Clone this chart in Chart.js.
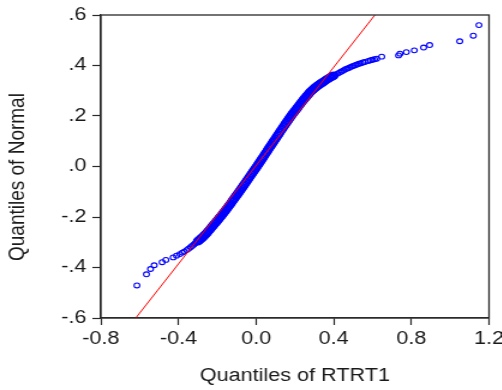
<!DOCTYPE html>
<html>
<head>
<meta charset="utf-8">
<script src="https://cdn.jsdelivr.net/npm/chart.js@4.4.0/dist/chart.umd.min.js"></script>
<style>
  html, body { margin: 0; padding: 0; background: #fff; overflow: hidden; }
  /* the reference is stretched sideways, so the chart is drawn narrow and widened */
  #wrap { width: 418px; height: 390px; transform: scaleX(1.2); transform-origin: 0 0; }
</style>
</head>
<body>
<div id="wrap"><canvas id="qq" width="418" height="390"></canvas></div>
<script>
// --- Values ---
// sample quantiles of RTRT1 (x) against normal quantiles (y)
const rtrtQuantiles = [
  -0.614, -0.565, -0.544, -0.525, -0.484, -0.465, -0.427, -0.410, -0.393, -0.380,
  -0.370, -0.358, -0.348, -0.338, -0.330, -0.322, -0.315, -0.307,
  -0.300, -0.295, -0.290, -0.285, -0.280, -0.275, -0.270, -0.265, -0.260, -0.255,
  -0.250, -0.245, -0.240, -0.235, -0.230, -0.225, -0.220, -0.215, -0.210, -0.205,
  -0.200, -0.195, -0.190, -0.185, -0.180, -0.175, -0.170, -0.165, -0.160, -0.155,
  -0.150, -0.145, -0.140, -0.135, -0.130, -0.125, -0.120, -0.115, -0.110, -0.105,
  -0.100, -0.095, -0.090, -0.085, -0.080, -0.075, -0.070, -0.065, -0.060, -0.055,
  -0.050, -0.045, -0.040, -0.035, -0.030, -0.025, -0.020, -0.015, -0.010, -0.005,
  0.000, 0.005, 0.010, 0.015, 0.020, 0.025, 0.030, 0.035, 0.040, 0.045,
  0.050, 0.055, 0.060, 0.065, 0.070, 0.075, 0.080, 0.085, 0.090, 0.095,
  0.100, 0.105, 0.110, 0.115, 0.120, 0.125, 0.130, 0.135, 0.140, 0.145,
  0.150, 0.155, 0.160, 0.165, 0.170, 0.175, 0.180, 0.185, 0.190, 0.195,
  0.200, 0.205, 0.210, 0.215, 0.220, 0.225, 0.230, 0.235, 0.240, 0.245,
  0.250, 0.255, 0.260, 0.265, 0.270, 0.275, 0.280, 0.285, 0.290, 0.295,
  0.300, 0.305, 0.310, 0.315, 0.320, 0.325, 0.330, 0.335, 0.340, 0.345,
  0.350, 0.355, 0.360, 0.365, 0.370, 0.375, 0.380, 0.385, 0.390, 0.395,
  0.400, 0.410, 0.420, 0.430, 0.440, 0.450, 0.460, 0.470, 0.480, 0.490,
  0.500, 0.510, 0.520, 0.530, 0.540, 0.550, 0.560, 0.578, 0.590, 0.600,
  0.610, 0.621, 0.647, 0.734, 0.741, 0.774, 0.815, 0.863, 0.894, 1.049,
  1.119, 1.148
];
const normalQuantiles = [
  -0.471, -0.427, -0.406, -0.391, -0.379, -0.370, -0.360, -0.353, -0.347, -0.341,
  -0.337, -0.331, -0.326, -0.320, -0.315, -0.310, -0.305, -0.300,
  -0.296, -0.293, -0.290, -0.286, -0.283, -0.280, -0.276, -0.272, -0.268, -0.264,
  -0.260, -0.255, -0.251, -0.246, -0.242, -0.237, -0.233, -0.228, -0.224, -0.219,
  -0.215, -0.210, -0.205, -0.200, -0.196, -0.191, -0.186, -0.181, -0.176, -0.171,
  -0.166, -0.161, -0.156, -0.151, -0.146, -0.140, -0.135, -0.130, -0.125, -0.119,
  -0.114, -0.109, -0.104, -0.098, -0.093, -0.087, -0.082, -0.076, -0.071, -0.065,
  -0.060, -0.054, -0.049, -0.043, -0.038, -0.032, -0.027, -0.021, -0.016, -0.010,
  -0.005, 0.001, 0.007, 0.012, 0.018, 0.024, 0.030, 0.035, 0.041, 0.047,
  0.053, 0.058, 0.064, 0.070, 0.076, 0.081, 0.087, 0.093, 0.099, 0.104,
  0.110, 0.116, 0.122, 0.127, 0.133, 0.139, 0.145, 0.150, 0.156, 0.161,
  0.167, 0.172, 0.178, 0.183, 0.189, 0.194, 0.200, 0.205, 0.211, 0.215,
  0.220, 0.225, 0.230, 0.235, 0.240, 0.245, 0.250, 0.255, 0.260, 0.264,
  0.269, 0.273, 0.278, 0.282, 0.287, 0.291, 0.296, 0.299, 0.303, 0.306,
  0.310, 0.313, 0.316, 0.319, 0.322, 0.324, 0.327, 0.330, 0.332, 0.335,
  0.337, 0.340, 0.342, 0.345, 0.347, 0.350, 0.352, 0.354, 0.356, 0.358,
  0.360, 0.364, 0.368, 0.372, 0.376, 0.380, 0.385, 0.388, 0.391, 0.395,
  0.398, 0.401, 0.404, 0.407, 0.409, 0.412, 0.414, 0.418, 0.421, 0.423,
  0.425, 0.427, 0.435, 0.440, 0.447, 0.453, 0.460, 0.471, 0.481, 0.496,
  0.518, 0.560
];

// reference line end points (where it meets the frame)
const refLineX = [-0.62, 0.612];
const refLineY = [-0.6, 0.6];

// axis ticks
const xTickValues = [-0.8, -0.4, 0.0, 0.4, 0.8, 1.2];
const xTickLabels = ['-0.8', '-0.4', '0.0', '0.4', '0.8', '1.2'];
const yTickValues = [-0.6, -0.4, -0.2, 0.0, 0.2, 0.4, 0.6];
const yTickLabels = ['-.6', '-.4', '-.2', '.0', '.2', '.4', '.6'];

const FONT = "'Liberation Sans', Arial, sans-serif";
const INK = '#1a1a1a';
const AXIS = '#2a2a2a';

// where the markers pile up into a solid band (x between these), draw them heavier
const bodyFrom = -0.30, bodyTo = 0.40;
const inBody = ctx => {
  const x = ctx.raw && ctx.raw.x;
  return x >= bodyFrom && x <= bodyTo;
};

// --- box around the plot area ---
const frame = {
  id: 'frame',
  afterDraw(chart) {
    const a = chart.chartArea;
    const c = chart.ctx;
    c.save();
    c.strokeStyle = AXIS;
    c.lineWidth = 1.3;
    c.strokeRect(a.left, a.top, a.right - a.left, a.bottom - a.top);
    c.restore();
  }
};

const tickCfg = (labels, values) => ({
  autoSkip: false,
  maxRotation: 0,
  color: INK,
  font: { family: FONT, size: 18 },
  callback: (v) => {
    const i = values.findIndex(t => Math.abs(t - v) < 1e-9);
    return i >= 0 ? labels[i] : '';
  }
});

new Chart(document.getElementById('qq'), {
  type: 'scatter',
  data: {
    datasets: [
      {
        data: refLineX.map((x, i) => ({ x, y: refLineY[i] })),
        showLine: true,
        borderColor: '#ff0000',
        borderWidth: 1,
        pointRadius: 0,
        order: 0
      },
      {
        data: rtrtQuantiles.map((x, i) => ({ x, y: normalQuantiles[i] })),
        pointStyle: 'circle',
        pointRadius: ctx => inBody(ctx) ? 3.4 : 2.4,
        borderWidth: ctx => inBody(ctx) ? 1.6 : 1.1,
        borderColor: '#0000ff',
        backgroundColor: 'rgba(0,0,0,0)',
        order: 1
      }
    ]
  },
  options: {
    responsive: false,
    animation: false,
    devicePixelRatio: 1,
    layout: { padding: { top: 15, right: 10.5, left: 0, bottom: 0 } },
    plugins: { legend: { display: false }, tooltip: { enabled: false } },
    scales: {
      x: {
        type: 'linear',
        min: -0.8,
        max: 1.2,
        afterBuildTicks: s => { s.ticks = xTickValues.map(v => ({ value: v })); },
        afterFit: s => { s.height = 72; s.paddingLeft = 0; s.paddingRight = 0; },
        ticks: Object.assign(tickCfg(xTickLabels, xTickValues), { padding: 3 }),
        grid: { drawOnChartArea: false, drawTicks: true, tickLength: 7, color: AXIS, tickWidth: 1.2 },
        border: { display: true, color: AXIS, width: 1.3 },
        title: {
          display: true,
          text: 'Quantiles of RTRT1',
          color: INK,
          font: { family: FONT, size: 18 },
          padding: { top: 3, bottom: 3 }
        }
      },
      y: {
        type: 'linear',
        min: -0.6,
        max: 0.6,
        afterBuildTicks: s => { s.ticks = yTickValues.map(v => ({ value: v })); },
        afterFit: s => { s.width = 84; s.paddingTop = 0; s.paddingBottom = 0; },
        ticks: Object.assign(tickCfg(yTickLabels, yTickValues), { padding: 5 }),
        grid: { drawOnChartArea: false, drawTicks: true, tickLength: 7, color: AXIS, tickWidth: 1.2 },
        border: { display: true, color: AXIS, width: 1.3 },
        title: {
          display: true,
          // trailing spaces nudge the title down a little, as in the original
          text: 'Quantiles of Normal    ',
          color: INK,
          font: { family: FONT, size: 19 },
          padding: { top: 3, bottom: 3 }
        }
      }
    }
  },
  plugins: [frame]
});
</script>
</body>
</html>
